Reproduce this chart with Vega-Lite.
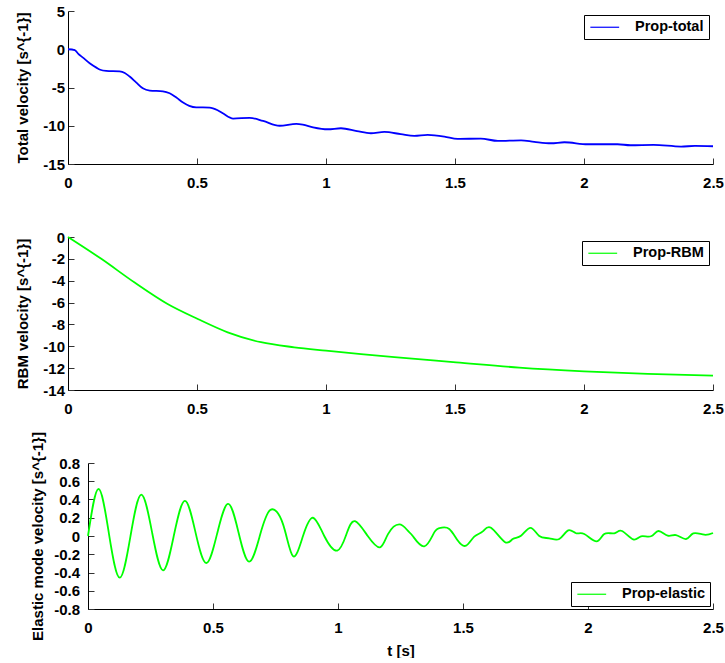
{
  "$schema": "https://vega.github.io/schema/vega-lite/v6.json",
  "padding": {"left": 14, "top": 4, "right": 0, "bottom": 0},
  "datasets": {
    "total": [
      {"t": 0, "v": 0, "series": "Prop-total"},
      {"t": 0.026, "v": -0.1, "series": "Prop-total"},
      {"t": 0.04, "v": -0.6, "series": "Prop-total"},
      {"t": 0.058, "v": -1.1, "series": "Prop-total"},
      {"t": 0.084, "v": -1.83, "series": "Prop-total"},
      {"t": 0.11, "v": -2.4, "series": "Prop-total"},
      {"t": 0.125, "v": -2.68, "series": "Prop-total"},
      {"t": 0.148, "v": -2.83, "series": "Prop-total"},
      {"t": 0.2, "v": -2.9, "series": "Prop-total"},
      {"t": 0.22, "v": -3.1, "series": "Prop-total"},
      {"t": 0.239, "v": -3.57, "series": "Prop-total"},
      {"t": 0.265, "v": -4.36, "series": "Prop-total"},
      {"t": 0.29, "v": -5.1, "series": "Prop-total"},
      {"t": 0.317, "v": -5.4, "series": "Prop-total"},
      {"t": 0.368, "v": -5.5, "series": "Prop-total"},
      {"t": 0.394, "v": -5.75, "series": "Prop-total"},
      {"t": 0.42, "v": -6.32, "series": "Prop-total"},
      {"t": 0.446, "v": -6.97, "series": "Prop-total"},
      {"t": 0.47, "v": -7.4, "series": "Prop-total"},
      {"t": 0.497, "v": -7.6, "series": "Prop-total"},
      {"t": 0.549, "v": -7.62, "series": "Prop-total"},
      {"t": 0.58, "v": -7.97, "series": "Prop-total"},
      {"t": 0.6, "v": -8.37, "series": "Prop-total"},
      {"t": 0.64, "v": -9.06, "series": "Prop-total"},
      {"t": 0.704, "v": -8.97, "series": "Prop-total"},
      {"t": 0.756, "v": -9.37, "series": "Prop-total"},
      {"t": 0.82, "v": -10.0, "series": "Prop-total"},
      {"t": 0.885, "v": -9.76, "series": "Prop-total"},
      {"t": 0.91, "v": -9.85, "series": "Prop-total"},
      {"t": 0.95, "v": -10.2, "series": "Prop-total"},
      {"t": 1.007, "v": -10.46, "series": "Prop-total"},
      {"t": 1.058, "v": -10.33, "series": "Prop-total"},
      {"t": 1.12, "v": -10.7, "series": "Prop-total"},
      {"t": 1.174, "v": -10.98, "series": "Prop-total"},
      {"t": 1.226, "v": -10.81, "series": "Prop-total"},
      {"t": 1.29, "v": -11.1, "series": "Prop-total"},
      {"t": 1.342, "v": -11.33, "series": "Prop-total"},
      {"t": 1.394, "v": -11.2, "series": "Prop-total"},
      {"t": 1.459, "v": -11.41, "series": "Prop-total"},
      {"t": 1.51, "v": -11.72, "series": "Prop-total"},
      {"t": 1.6, "v": -11.68, "series": "Prop-total"},
      {"t": 1.666, "v": -11.98, "series": "Prop-total"},
      {"t": 1.756, "v": -11.9, "series": "Prop-total"},
      {"t": 1.807, "v": -12.1, "series": "Prop-total"},
      {"t": 1.872, "v": -12.29, "series": "Prop-total"},
      {"t": 1.924, "v": -12.16, "series": "Prop-total"},
      {"t": 2.014, "v": -12.42, "series": "Prop-total"},
      {"t": 2.13, "v": -12.42, "series": "Prop-total"},
      {"t": 2.18, "v": -12.55, "series": "Prop-total"},
      {"t": 2.27, "v": -12.5, "series": "Prop-total"},
      {"t": 2.376, "v": -12.72, "series": "Prop-total"},
      {"t": 2.43, "v": -12.64, "series": "Prop-total"},
      {"t": 2.5, "v": -12.68, "series": "Prop-total"}
    ],
    "rbm": [
      {"t": 0, "v": 0, "series": "Prop-RBM"},
      {"t": 0.129, "v": -2.0, "series": "Prop-RBM"},
      {"t": 0.257, "v": -4.15, "series": "Prop-RBM"},
      {"t": 0.386, "v": -6.13, "series": "Prop-RBM"},
      {"t": 0.503, "v": -7.5, "series": "Prop-RBM"},
      {"t": 0.619, "v": -8.72, "series": "Prop-RBM"},
      {"t": 0.748, "v": -9.63, "series": "Prop-RBM"},
      {"t": 0.877, "v": -10.09, "series": "Prop-RBM"},
      {"t": 1.0, "v": -10.4, "series": "Prop-RBM"},
      {"t": 1.136, "v": -10.72, "series": "Prop-RBM"},
      {"t": 1.265, "v": -11.0, "series": "Prop-RBM"},
      {"t": 1.504, "v": -11.47, "series": "Prop-RBM"},
      {"t": 1.749, "v": -11.95, "series": "Prop-RBM"},
      {"t": 2.0, "v": -12.29, "series": "Prop-RBM"},
      {"t": 2.247, "v": -12.53, "series": "Prop-RBM"},
      {"t": 2.5, "v": -12.69, "series": "Prop-RBM"}
    ],
    "elastic": [
      {"t": 0, "v": 0.0, "series": "Prop-elastic"},
      {"t": 0.042, "v": 0.515, "series": "Prop-elastic"},
      {"t": 0.084, "v": 0.02, "series": "Prop-elastic"},
      {"t": 0.127, "v": -0.457, "series": "Prop-elastic"},
      {"t": 0.17, "v": 0.0, "series": "Prop-elastic"},
      {"t": 0.213, "v": 0.453, "series": "Prop-elastic"},
      {"t": 0.257, "v": 0.03, "series": "Prop-elastic"},
      {"t": 0.3, "v": -0.376, "series": "Prop-elastic"},
      {"t": 0.343, "v": 0.0, "series": "Prop-elastic"},
      {"t": 0.387, "v": 0.384, "series": "Prop-elastic"},
      {"t": 0.43, "v": 0.04, "series": "Prop-elastic"},
      {"t": 0.473, "v": -0.296, "series": "Prop-elastic"},
      {"t": 0.516, "v": 0.02, "series": "Prop-elastic"},
      {"t": 0.56, "v": 0.351, "series": "Prop-elastic"},
      {"t": 0.602, "v": 0.04, "series": "Prop-elastic"},
      {"t": 0.644, "v": -0.281, "series": "Prop-elastic"},
      {"t": 0.687, "v": 0.0, "series": "Prop-elastic"},
      {"t": 0.729, "v": 0.285, "series": "Prop-elastic"},
      {"t": 0.78, "v": 0.13, "series": "Prop-elastic"},
      {"t": 0.82, "v": -0.22, "series": "Prop-elastic"},
      {"t": 0.86, "v": 0.0, "series": "Prop-elastic"},
      {"t": 0.9, "v": 0.2, "series": "Prop-elastic"},
      {"t": 0.945, "v": 0.0, "series": "Prop-elastic"},
      {"t": 0.997, "v": -0.16, "series": "Prop-elastic"},
      {"t": 1.035, "v": 0.03, "series": "Prop-elastic"},
      {"t": 1.068, "v": 0.162, "series": "Prop-elastic"},
      {"t": 1.119, "v": 0.0, "series": "Prop-elastic"},
      {"t": 1.168, "v": -0.124, "series": "Prop-elastic"},
      {"t": 1.2, "v": 0.02, "series": "Prop-elastic"},
      {"t": 1.245, "v": 0.127, "series": "Prop-elastic"},
      {"t": 1.279, "v": 0.058, "series": "Prop-elastic"},
      {"t": 1.299, "v": 0.0, "series": "Prop-elastic"},
      {"t": 1.345, "v": -0.113, "series": "Prop-elastic"},
      {"t": 1.385, "v": 0.04, "series": "Prop-elastic"},
      {"t": 1.412, "v": 0.09, "series": "Prop-elastic"},
      {"t": 1.445, "v": 0.077, "series": "Prop-elastic"},
      {"t": 1.479, "v": -0.05, "series": "Prop-elastic"},
      {"t": 1.512, "v": -0.106, "series": "Prop-elastic"},
      {"t": 1.545, "v": -0.007, "series": "Prop-elastic"},
      {"t": 1.579, "v": 0.05, "series": "Prop-elastic"},
      {"t": 1.612, "v": 0.09, "series": "Prop-elastic"},
      {"t": 1.667, "v": -0.065, "series": "Prop-elastic"},
      {"t": 1.699, "v": -0.033, "series": "Prop-elastic"},
      {"t": 1.732, "v": 0.003, "series": "Prop-elastic"},
      {"t": 1.77, "v": 0.09, "series": "Prop-elastic"},
      {"t": 1.805, "v": 0.0, "series": "Prop-elastic"},
      {"t": 1.845, "v": -0.025, "series": "Prop-elastic"},
      {"t": 1.885, "v": -0.033, "series": "Prop-elastic"},
      {"t": 1.921, "v": 0.062, "series": "Prop-elastic"},
      {"t": 1.952, "v": 0.03, "series": "Prop-elastic"},
      {"t": 1.985, "v": 0.022, "series": "Prop-elastic"},
      {"t": 2.034, "v": -0.058, "series": "Prop-elastic"},
      {"t": 2.065, "v": 0.022, "series": "Prop-elastic"},
      {"t": 2.105, "v": 0.03, "series": "Prop-elastic"},
      {"t": 2.136, "v": 0.055, "series": "Prop-elastic"},
      {"t": 2.181, "v": -0.037, "series": "Prop-elastic"},
      {"t": 2.212, "v": -0.003, "series": "Prop-elastic"},
      {"t": 2.252, "v": -0.003, "series": "Prop-elastic"},
      {"t": 2.282, "v": 0.055, "series": "Prop-elastic"},
      {"t": 2.319, "v": 0.003, "series": "Prop-elastic"},
      {"t": 2.352, "v": 0.01, "series": "Prop-elastic"},
      {"t": 2.392, "v": -0.033, "series": "Prop-elastic"},
      {"t": 2.421, "v": 0.028, "series": "Prop-elastic"},
      {"t": 2.465, "v": 0.014, "series": "Prop-elastic"},
      {"t": 2.5, "v": 0.033, "series": "Prop-elastic"}
    ]
  },
  "columns": 1,
  "align": "none",
  "bounds": "flush",
  "spacing": 73,
  "resolve": {"scale": {"color": "independent"}, "legend": {"color": "independent"}},
  "concat": [
    {
      "width": 645,
      "height": 153,
      "data": {"name": "total"},
      "mark": {"type": "line", "interpolate": "monotone", "strokeWidth": 1.8},
      "encoding": {
        "x": {"field": "t", "type": "quantitative", "scale": {"domain": [0, 2.5], "nice": false, "zero": false},
              "axis": {"values": [0, 0.5, 1, 1.5, 2, 2.5], "title": null, "labelPadding": 17, "labelExpr": "toString(datum.value)"}},
        "y": {"field": "v", "type": "quantitative", "scale": {"domain": [-15, 5], "nice": false, "zero": false},
              "axis": {"values": [-15, -10, -5, 0, 5], "title": "Total velocity [s^{-1}]", "labelPadding": 9.5, "minExtent": 30, "maxExtent": 30, "titlePadding": 8, "labelExpr": "toString(datum.value)"}},
        "color": {"field": "series", "type": "nominal", "scale": {"domain": ["Prop-total"], "range": ["#0000ff"]},
                  "legend": {"title": null, "orient": "top-right", "offset": 4}}
      }
    },
    {
      "width": 645,
      "height": 153,
      "data": {"name": "rbm"},
      "mark": {"type": "line", "interpolate": "monotone", "strokeWidth": 1.8},
      "encoding": {
        "x": {"field": "t", "type": "quantitative", "scale": {"domain": [0, 2.5], "nice": false, "zero": false},
              "axis": {"values": [0, 0.5, 1, 1.5, 2, 2.5], "title": null, "labelPadding": 17, "labelExpr": "toString(datum.value)"}},
        "y": {"field": "v", "type": "quantitative", "scale": {"domain": [-14, 0], "nice": false, "zero": false},
              "axis": {"values": [-14, -12, -10, -8, -6, -4, -2, 0], "title": "RBM velocity [s^{-1}]", "labelPadding": 9.5, "minExtent": 30, "maxExtent": 30, "titlePadding": 8, "labelExpr": "toString(datum.value)"}},
        "color": {"field": "series", "type": "nominal", "scale": {"domain": ["Prop-RBM"], "range": ["#00ff00"]},
                  "legend": {"title": null, "orient": "top-right", "offset": 4}}
      }
    },
    {
      "hconcat": [
        {
          "width": 20,
          "height": 146,
          "data": {"values": []},
          "mark": "point"
        },
        {
          "width": 625,
          "height": 146,
          "data": {"name": "elastic"},
          "mark": {"type": "line", "interpolate": "natural", "strokeWidth": 1.8},
          "encoding": {
            "x": {"field": "t", "type": "quantitative", "scale": {"domain": [0, 2.5], "nice": false, "zero": false},
                  "axis": {"values": [0, 0.5, 1, 1.5, 2, 2.5], "title": "t [s]", "labelPadding": 17, "titlePadding": 8, "labelExpr": "toString(datum.value)"}},
            "y": {"field": "v", "type": "quantitative", "scale": {"domain": [-0.8, 0.8], "nice": false, "zero": false},
                  "axis": {"values": [-0.8, -0.6, -0.4, -0.2, 0, 0.2, 0.4, 0.6, 0.8], "title": "Elastic mode velocity [s^{-1}]", "labelPadding": 14.5, "minExtent": 36, "maxExtent": 36, "titlePadding": 7, "labelExpr": "toString(datum.value)"}},
            "color": {"field": "series", "type": "nominal", "scale": {"domain": ["Prop-elastic"], "range": ["#00ff00"]},
                      "legend": {"title": null, "orient": "bottom-right", "offset": 3}}
          }
        }
      ],
      "spacing": 0,
      "bounds": "flush",
      "resolve": {"scale": {"color": "independent"}, "legend": {"color": "independent"}}
    }
  ],
  "config": {
    "view": {"stroke": null},
    "font": "Liberation Sans",
    "axis": {
      "labelFont": "Liberation Sans", "labelFontWeight": "bold", "labelFontSize": 15, "labelColor": "black",
      "titleFont": "Liberation Sans", "titleFontWeight": "bold", "titleFontSize": 15, "titleColor": "black",
      "domainColor": "black", "domainWidth": 1, "tickColor": "#333333", "tickSize": -6, "tickWidth": 1,
      "grid": false, "labelOverlap": false, "labelFlush": false
    },
    "legend": {
      "labelFont": "Liberation Sans", "labelFontSize": 14.5, "labelFontWeight": "bold", "labelColor": "black",
      "strokeColor": "black", "fillColor": "white", "padding": 5, "cornerRadius": 0,
      "symbolType": "M-2.4,0H2.4", "symbolSize": 144, "symbolStrokeWidth": 1.2, "symbolOffset": 8.5, "labelOffset": 23
    }
  }
}
